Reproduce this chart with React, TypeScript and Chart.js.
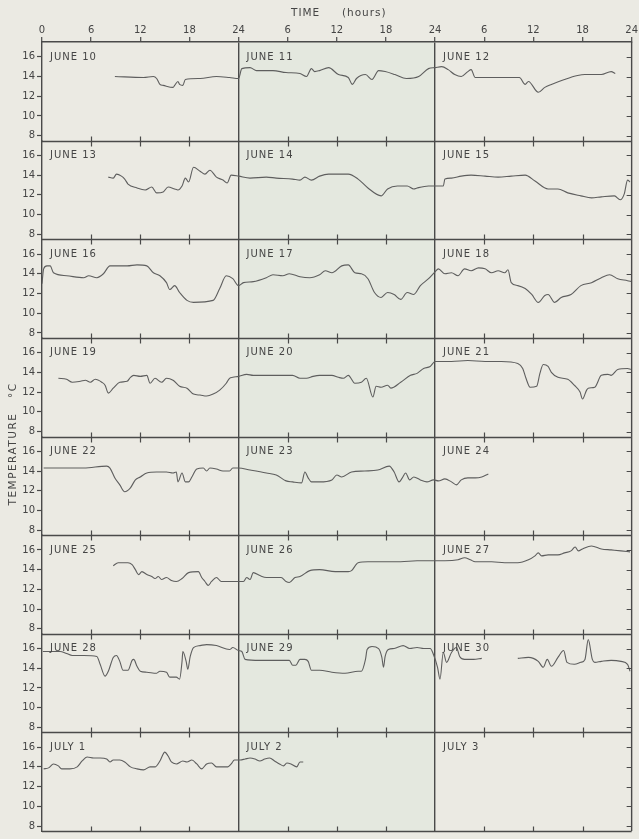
import React, { useEffect, useRef } from 'react';
import { Chart, registerables } from 'chart.js';

Chart.register(...registerables);

// [hour within the 3-day strip (0-72), temperature °C]; null breaks the trace
type Reading = [number, number | null];

const dayLabels: string[] = [
  'JUNE 10', 'JUNE 11', 'JUNE 12',
  'JUNE 13', 'JUNE 14', 'JUNE 15',
  'JUNE 16', 'JUNE 17', 'JUNE 18',
  'JUNE 19', 'JUNE 20', 'JUNE 21',
  'JUNE 22', 'JUNE 23', 'JUNE 24',
  'JUNE 25', 'JUNE 26', 'JUNE 27',
  'JUNE 28', 'JUNE 29', 'JUNE 30',
  'JULY 1', 'JULY 2', 'JULY 3',
];
const hourTicks: number[] = [0, 6, 12, 18, 24, 30, 36, 42, 48, 54, 60, 66, 72];
const innerHourTicks: number[] = [6, 12, 18, 30, 36, 42, 54, 60, 66];
const dayBoundaries: number[] = [24, 48];
const tempTicks: number[] = [8, 10, 12, 14, 16];

const june10to12: Reading[] = [
  [8.9, 14.0], [12.4, 13.9], [13.6, 14.0], [14.0, 13.8], [14.4, 13.2], [14.8, 13.1], [16.0, 12.9],
  [16.2, 13.1], [16.6, 13.5], [16.8, 13.2], [17.2, 13.1], [17.5, 13.7], [19.3, 13.8], [21.3, 14.0],
  [22.9, 13.9], [24.0, 13.8],
  [24.4, 14.8], [25.4, 14.9], [26.2, 14.6], [28.2, 14.6], [29.8, 14.4], [31.5, 14.3], [32.3, 14.0],
  [32.9, 14.8], [33.3, 14.5], [33.9, 14.6], [35.0, 14.9], [36.2, 14.2], [37.4, 13.9], [37.9, 13.2],
  [38.4, 13.8], [39.5, 14.2], [40.3, 13.7], [41.1, 14.6], [41.9, 14.5], [43.1, 14.2], [44.5, 13.8],
  [46.0, 14.0], [47.2, 14.8], [48.0, 14.9],
  [48.8, 15.0], [49.6, 14.7], [50.4, 14.2], [51.2, 14.0], [52.0, 14.5], [52.4, 14.7], [52.9, 13.9],
  [53.7, 13.9], [56.1, 13.9], [58.3, 13.9], [59.0, 13.2], [59.4, 13.5], [60.6, 12.4], [61.4, 12.9],
  [62.2, 13.2], [63.8, 13.7], [65.4, 14.1], [66.3, 14.2], [68.3, 14.2], [69.5, 14.5], [70.0, 14.3],
];

const june13to15: Reading[] = [
  [8.1, 13.8], [8.7, 13.7], [9.1, 14.1], [9.7, 13.9], [10.1, 13.6], [10.5, 13.1], [11.6, 12.7],
  [12.6, 12.5], [13.4, 12.8], [14.0, 12.2], [14.8, 12.3], [15.4, 12.8], [16.2, 12.6], [16.6, 12.5],
  [17.1, 12.9], [17.5, 13.7], [17.9, 13.3], [18.5, 14.8], [19.3, 14.4], [19.9, 14.1], [20.5, 14.5],
  [21.3, 13.8], [22.1, 13.5], [22.6, 13.2], [23.1, 14.0], [24.0, 13.9],
  [25.4, 13.7], [27.4, 13.8], [28.6, 13.7], [30.6, 13.6], [31.5, 13.5], [32.1, 13.8], [32.9, 13.5],
  [33.9, 13.9], [35.0, 14.1], [37.4, 14.1], [38.6, 13.6], [39.8, 12.7], [41.4, 11.9], [42.2, 12.6],
  [43.4, 12.9], [44.6, 12.9], [45.4, 12.6], [45.8, 12.7], [47.2, 12.9], [48.0, 12.9], [49.0, 12.9],
  [49.2, 13.6], [50.0, 13.7], [51.2, 13.9], [52.4, 14.0], [54.1, 13.9], [55.7, 13.8], [57.3, 13.9],
  [59.0, 14.0], [60.2, 13.4], [61.8, 12.6], [63.0, 12.6], [64.2, 12.2], [65.8, 11.9], [67.1, 11.7],
  [68.3, 11.8], [69.9, 11.9], [70.6, 11.5], [71.1, 12.1], [71.5, 13.5], [71.8, 13.3],
];

const june16to18: Reading[] = [
  [0.0, 13.0], [0.2, 14.5], [0.6, 14.8], [1.0, 14.8], [1.4, 14.1], [3.0, 13.8], [5.1, 13.6],
  [5.7, 13.8], [6.7, 13.6], [7.5, 14.0], [8.3, 14.8], [10.4, 14.8], [11.6, 14.9], [12.8, 14.8],
  [13.6, 14.1], [14.4, 13.8], [15.2, 13.1], [15.6, 12.4], [16.2, 12.8], [16.8, 12.1], [17.7, 11.3],
  [18.5, 11.1], [20.9, 11.3], [21.7, 12.5], [22.5, 13.8], [23.3, 13.5], [24.0, 12.8],
  [24.6, 13.1], [25.8, 13.2], [27.4, 13.6], [28.2, 13.9], [29.4, 13.8], [30.2, 14.0], [31.5, 13.7],
  [32.7, 13.6], [33.9, 13.9], [34.6, 14.3], [35.4, 14.1], [36.6, 14.8], [37.4, 14.9], [38.2, 14.1],
  [39.0, 14.0], [39.8, 13.5], [40.6, 12.1], [41.4, 11.6], [42.2, 12.1], [43.0, 11.9], [43.8, 11.4],
  [44.6, 12.1], [45.4, 11.9], [46.2, 12.8], [47.2, 13.5], [48.0, 14.2],
  [48.4, 14.5], [49.2, 14.0], [50.0, 14.1], [50.8, 13.8], [51.6, 14.5], [52.4, 14.3], [53.3, 14.6],
  [54.1, 14.5], [54.9, 14.1], [55.7, 14.3], [56.5, 14.1], [56.9, 14.4], [57.3, 13.1], [58.1, 12.8],
  [59.0, 12.5], [59.8, 11.9], [60.6, 11.1], [61.4, 11.8], [61.8, 11.9], [62.6, 11.1], [63.4, 11.6],
  [64.6, 11.9], [65.8, 12.8], [67.1, 13.1], [68.3, 13.6], [69.3, 13.9], [70.3, 13.5], [71.5, 13.3],
  [72.0, 13.2],
];

const june19to21: Reading[] = [
  [2.0, 13.4], [3.0, 13.3], [3.7, 13.0], [4.7, 13.1], [5.3, 13.2], [5.9, 13.0], [6.5, 13.3],
  [7.3, 13.0], [7.7, 12.7], [8.1, 11.9], [8.7, 12.4], [9.5, 13.0], [10.4, 13.1], [10.8, 13.5],
  [11.2, 13.7], [12.0, 13.6], [12.8, 13.7], [13.2, 12.9], [13.8, 13.4], [14.6, 13.0], [15.2, 13.4],
  [16.0, 13.2], [16.8, 12.6], [17.7, 12.4], [18.5, 11.8], [19.3, 11.7], [20.1, 11.6], [20.9, 11.8],
  [21.7, 12.2], [22.5, 12.9], [22.9, 13.4], [23.3, 13.5], [24.0, 13.6],
  [25.0, 13.8], [25.8, 13.7], [27.4, 13.7], [29.4, 13.7], [30.6, 13.7], [31.5, 13.4], [32.3, 13.4],
  [33.1, 13.6], [33.9, 13.7], [35.4, 13.7], [36.2, 13.5], [36.8, 13.4], [37.4, 13.7], [38.2, 12.9],
  [39.0, 13.0], [39.6, 13.4], [40.4, 11.5], [40.8, 12.6], [41.4, 12.5], [42.2, 12.7], [42.6, 12.4],
  [43.8, 13.0], [45.0, 13.7], [45.8, 13.9], [46.6, 14.4], [47.4, 14.6], [48.0, 15.1],
  [50.0, 15.1], [52.0, 15.2], [54.1, 15.1], [56.1, 15.1], [58.1, 14.9], [58.7, 14.4], [59.1, 13.4],
  [59.6, 12.5], [60.4, 12.6], [60.8, 13.9], [61.2, 14.8], [61.8, 14.6], [62.2, 14.0], [63.0, 13.5],
  [64.2, 13.3], [65.0, 12.7], [65.7, 12.0], [66.0, 11.3], [66.5, 12.2], [66.7, 12.4], [67.5, 12.5],
  [68.3, 13.7], [69.1, 13.8], [69.5, 13.7], [70.3, 14.3], [71.5, 14.4], [71.9, 14.3],
];

const june22to24: Reading[] = [
  [0.2, 14.3], [3.0, 14.3], [5.1, 14.3], [7.9, 14.5], [8.3, 14.3], [8.9, 13.3], [9.5, 12.6],
  [10.1, 11.9], [10.8, 12.3], [11.4, 13.1], [12.0, 13.4], [12.8, 13.8], [14.0, 13.9], [15.2, 13.9],
  [16.0, 13.8], [16.4, 13.9], [16.6, 12.9], [17.1, 13.8], [17.5, 12.9], [17.9, 12.9], [18.3, 13.4],
  [18.9, 14.2], [19.7, 14.3], [20.1, 14.0], [20.5, 14.3], [21.3, 14.2], [22.1, 14.0], [22.9, 14.0],
  [23.3, 14.3], [24.0, 14.3],
  [25.4, 14.1], [27.4, 13.8], [28.6, 13.6], [29.8, 13.0], [30.6, 12.9], [31.7, 12.8], [32.1, 13.9],
  [32.5, 13.3], [32.9, 12.9], [33.9, 12.9], [35.4, 13.1], [36.0, 13.6], [36.6, 13.4], [37.8, 13.9],
  [39.4, 14.0], [41.0, 14.1], [42.4, 14.5], [43.0, 13.9], [43.6, 12.9], [44.0, 13.3], [44.4, 13.8],
  [44.9, 13.1], [45.4, 13.4], [46.2, 13.1], [47.0, 12.9], [47.8, 13.1],
  [48.4, 13.0], [49.2, 13.2], [50.0, 12.9], [50.6, 12.6], [51.2, 13.1], [52.0, 13.3], [52.9, 13.3],
  [53.7, 13.4], [54.5, 13.7],
];

const june25to27: Reading[] = [
  [8.7, 14.4], [9.3, 14.7], [10.5, 14.7], [11.0, 14.5], [11.4, 14.0], [11.8, 13.5], [12.2, 13.8],
  [12.8, 13.5], [13.4, 13.3], [13.8, 13.1], [14.2, 13.3], [14.6, 13.0], [15.2, 13.2], [15.8, 12.9],
  [16.4, 12.8], [17.1, 13.1], [17.9, 13.7], [19.1, 13.8], [19.5, 13.2], [19.9, 12.8], [20.3, 12.4],
  [20.7, 12.8], [21.3, 13.2], [21.9, 12.8], [22.9, 12.8], [24.0, 12.8],
  [24.6, 12.8], [25.0, 13.2], [25.4, 13.0], [25.8, 13.7], [26.6, 13.4], [27.4, 13.2], [28.6, 13.2],
  [29.2, 13.2], [29.8, 12.8], [30.2, 12.7], [30.9, 13.2], [31.5, 13.3], [32.7, 13.9], [33.9, 14.0],
  [35.8, 13.8], [37.4, 13.8], [37.8, 13.9], [38.6, 14.7], [39.8, 14.8], [41.8, 14.8], [43.8, 14.8],
  [45.8, 14.9], [47.8, 14.9],
  [49.2, 14.9], [50.8, 15.0], [51.6, 15.2], [52.3, 15.0], [52.9, 14.8], [54.9, 14.8], [56.5, 14.7],
  [58.1, 14.7], [59.4, 15.0], [60.2, 15.4], [60.6, 15.7], [61.0, 15.4], [61.8, 15.5], [63.0, 15.5],
  [63.8, 15.7], [64.6, 15.9], [65.1, 16.3], [65.5, 15.9], [66.0, 16.1], [67.1, 16.4], [68.3, 16.1],
  [69.5, 16.0], [70.7, 15.9], [71.8, 15.8],
];

const june28to30: Reading[] = [
  [0.1, 15.7], [2.2, 15.7], [3.0, 15.5], [3.7, 15.3], [5.1, 15.3], [6.7, 15.2], [7.1, 14.4],
  [7.7, 13.2], [8.1, 13.7], [8.7, 15.1], [9.1, 15.3], [9.5, 14.7], [9.9, 13.8], [10.5, 13.8],
  [11.0, 14.8], [11.2, 14.9], [11.6, 14.2], [12.0, 13.7], [12.8, 13.6], [14.0, 13.5], [14.4, 13.7],
  [15.2, 13.6], [15.6, 13.1], [16.4, 13.1], [16.8, 12.9], [17.1, 14.7], [17.2, 15.7], [17.6, 14.7],
  [17.8, 13.9], [18.1, 15.2], [18.5, 16.1], [19.3, 16.3], [20.1, 16.4], [21.3, 16.3], [22.9, 15.9],
  [23.3, 16.1], [24.0, 15.8],
  [24.4, 15.7], [24.8, 14.9], [26.6, 14.8], [28.6, 14.8], [30.2, 14.8], [30.6, 14.3], [31.0, 14.3],
  [31.5, 14.9], [32.1, 14.9], [32.5, 14.7], [32.9, 13.8], [33.9, 13.8], [35.4, 13.6], [37.0, 13.5],
  [38.6, 13.7], [39.0, 13.7], [39.5, 14.9], [39.7, 15.9], [40.3, 16.2], [41.1, 16.0], [41.5, 15.1],
  [41.7, 14.1], [41.9, 15.2], [42.3, 15.9], [43.0, 16.0], [44.1, 16.3], [44.9, 16.0], [45.8, 16.1],
  [46.6, 16.0], [47.4, 16.0], [47.8, 15.4], [48.3, 14.1], [48.6, 12.9],
  [49.0, 15.6], [49.4, 14.6], [50.0, 15.6], [50.6, 16.1], [51.0, 15.2], [51.6, 14.9], [52.7, 14.9],
  [53.7, 15.0], [56.0, null], [58.1, 15.0], [59.4, 15.1], [60.6, 14.7], [61.2, 14.1], [61.7, 14.9],
  [62.2, 14.2], [63.0, 15.1], [63.7, 15.8], [64.1, 14.6], [65.0, 14.4], [65.8, 14.6], [66.3, 14.9],
  [66.7, 16.9], [67.2, 14.9], [67.5, 14.6], [68.3, 14.7], [69.5, 14.8], [70.7, 14.7], [71.5, 14.4],
  [71.8, 13.7],
];

const july1to3: Reading[] = [
  [0.2, 13.8], [0.8, 13.9], [1.4, 14.3], [2.0, 14.1], [2.4, 13.8], [3.4, 13.8], [4.3, 14.0],
  [4.9, 14.6], [5.5, 15.0], [6.3, 14.9], [7.1, 14.9], [7.9, 14.8], [8.3, 14.5], [8.7, 14.7],
  [9.5, 14.7], [10.1, 14.5], [10.8, 14.0], [11.6, 13.8], [12.4, 13.7], [13.2, 14.0], [13.8, 14.0],
  [14.4, 14.6], [15.0, 15.5], [15.4, 15.1], [15.8, 14.5], [16.4, 14.3], [17.2, 14.6], [17.7, 14.5],
  [18.3, 14.7], [18.9, 14.3], [19.5, 13.8], [20.1, 14.3], [20.7, 14.4], [21.3, 14.0], [22.1, 14.0],
  [22.7, 14.0], [23.1, 14.3], [23.5, 14.7], [24.2, 14.7],
  [24.8, 14.8], [25.4, 14.9], [26.0, 14.8], [26.6, 14.6], [27.2, 14.8], [27.8, 14.9], [28.4, 14.6],
  [29.0, 14.3], [29.5, 14.1], [29.9, 14.4], [30.4, 14.3], [31.1, 14.0], [31.5, 14.5], [31.9, 14.5],
];

const stripReadings: Reading[][] = [
  june10to12, june13to15, june16to18, june19to21,
  june22to24, june25to27, june28to30, july1to3,
];

// ---- styling ----
const PAPER = '#ebeae3';
const MID_TINT = 'rgba(185, 220, 200, 0.12)';
const INK = '#4a4a4a';
const TEXT = '#454545';
const TRACE = '#5e5e5e';
const FONT = '"DejaVu Sans", sans-serif';

const hourLabel = (v: number): string => (v === 0 ? '0' : v % 24 === 0 ? '24' : String(v % 24));

const decorPlugin = {
  id: 'decor',
  beforeDraw(chart: any) {
    const { ctx, chartArea: a, scales } = chart;
    const x = scales.x;
    ctx.save();
    ctx.fillStyle = PAPER;
    ctx.fillRect(0, 0, chart.width, chart.height);
    const x0 = x.getPixelForValue(dayBoundaries[0]);
    const x1 = x.getPixelForValue(dayBoundaries[1]);
    ctx.fillStyle = MID_TINT;
    ctx.fillRect(x0, a.top, x1 - x0, a.bottom - a.top);
    ctx.restore();
  },
  afterDatasetsDraw(chart: any) {
    const { ctx, chartArea: a, scales } = chart;
    const x = scales.x;
    ctx.save();
    ctx.strokeStyle = INK;
    ctx.lineWidth = 1.4;
    // strip boundaries and right frame
    ctx.beginPath();
    stripReadings.forEach((_, i) => {
      const y = Math.round(scales['y' + i].bottom) + 0.5;
      ctx.moveTo(a.left, y);
      ctx.lineTo(a.right, y);
    });
    ctx.moveTo(a.right, a.top);
    ctx.lineTo(a.right, a.bottom);
    ctx.stroke();
    // hour ticks crossing strip boundaries
    ctx.lineWidth = 1.2;
    ctx.beginPath();
    stripReadings.forEach((_, i) => {
      const y = Math.round(scales['y' + i].bottom) + 0.5;
      const last = i === stripReadings.length - 1;
      innerHourTicks.forEach((h) => {
        const px = Math.round(x.getPixelForValue(h)) + 0.5;
        ctx.moveTo(px, y - 5);
        ctx.lineTo(px, last ? y : y + 5);
      });
    });
    // temperature ticks on the right edge, pointing inward
    stripReadings.forEach((_, i) => {
      const s = scales['y' + i];
      tempTicks.forEach((t) => {
        const py = Math.round(s.getPixelForValue(t)) + 0.5;
        ctx.moveTo(a.right - 5, py);
        ctx.lineTo(a.right, py);
      });
    });
    ctx.stroke();

    // day labels
    ctx.fillStyle = TEXT;
    ctx.font = `10px ${FONT}`;
    (ctx as any).letterSpacing = '1px';
    ctx.textAlign = 'left';
    ctx.textBaseline = 'middle';
    stripReadings.forEach((_, i) => {
      const s = scales['y' + i];
      for (let d = 0; d < 3; d++) {
        const label = dayLabels[i * 3 + d];
        if (!label) continue;
        ctx.fillText(label, x.getPixelForValue(d * 24) + 8, s.top + 15);
      }
    });

    // axis titles
    ctx.font = `10.5px ${FONT}`;
    ctx.textAlign = 'center';
    (ctx as any).letterSpacing = '1px';
    ctx.fillText('TIME     (hours)', (a.left + a.right) / 2 + 2, 13);
    (ctx as any).letterSpacing = '1.5px';
    ctx.translate(13, 444);
    ctx.rotate(-Math.PI / 2);
    ctx.fillText('TEMPERATURE   °C', 0, 0);
    ctx.restore();
  },
};

export default function App() {
  const canvasRef = useRef<HTMLCanvasElement | null>(null);

  useEffect(() => {
    const canvas = canvasRef.current;
    if (!canvas) return;

    const scales: any = {
      x: {
        type: 'linear',
        position: 'top',
        min: 0,
        max: 72,
        afterBuildTicks: (axis: any) => {
          axis.ticks = hourTicks.map((v) => ({ value: v }));
        },
        afterFit: (axis: any) => {
          axis.height = 42;
        },
        ticks: {
          autoSkip: false,
          maxRotation: 0,
          padding: 1,
          color: TEXT,
          font: { family: FONT, size: 10 },
          callback: (v: any) => hourLabel(Number(v)),
        },
        grid: {
          drawOnChartArea: true,
          drawTicks: true,
          tickLength: 5,
          tickColor: INK,
          tickWidth: 1.2,
          lineWidth: 1.4,
          color: (c: any) =>
            c.tick && dayBoundaries.includes(c.tick.value) ? INK : 'rgba(0,0,0,0)',
        },
        border: { display: true, color: INK, width: 1.4 },
      },
    };

    stripReadings.forEach((_, i) => {
      scales['y' + i] = {
        type: 'linear',
        position: 'left',
        stack: 'strips',
        stackWeight: 1,
        weight: stripReadings.length - i,
        min: 7.5,
        max: 17.5,
        afterBuildTicks: (axis: any) => {
          axis.ticks = tempTicks.map((v) => ({ value: v }));
        },
        afterFit: (axis: any) => {
          axis.width = 42;
        },
        ticks: {
          autoSkip: false,
          padding: 2,
          color: TEXT,
          font: { family: FONT, size: 10 },
          callback: (v: any) => String(v),
        },
        grid: {
          drawOnChartArea: false,
          drawTicks: true,
          tickLength: 5,
          tickColor: INK,
          tickWidth: 1.2,
        },
        border: { display: true, color: INK, width: 1.4 },
      };
    });

    const chart = new Chart(canvas, {
      type: 'line',
      data: {
        datasets: stripReadings.map((rows, i) => ({
          label: `${dayLabels[i * 3]} – ${dayLabels[i * 3 + 2]}`,
          xAxisID: 'x',
          yAxisID: 'y' + i,
          data: rows.map(([h, t]) => ({ x: h, y: t })),
          borderColor: TRACE,
          borderWidth: 1.1,
          pointRadius: 0,
          pointHoverRadius: 0,
          cubicInterpolationMode: 'monotone' as const,
          tension: 0.3,
          spanGaps: false,
          fill: false,
        })),
      },
      options: {
        responsive: false,
        animation: false,
        devicePixelRatio: 1,
        layout: { padding: { top: 0, left: 0, right: 7, bottom: 4 } },
        plugins: {
          legend: { display: false },
          tooltip: { enabled: false },
        },
        scales,
      },
      plugins: [decorPlugin],
    });

    return () => chart.destroy();
  }, []);

  return (
    <div style={{ position: 'fixed', left: 0, top: 0, width: 639, height: 839, background: PAPER }}>
      <canvas ref={canvasRef} width={639} height={839} style={{ display: 'block', width: 639, height: 839 }} />
    </div>
  );
}
